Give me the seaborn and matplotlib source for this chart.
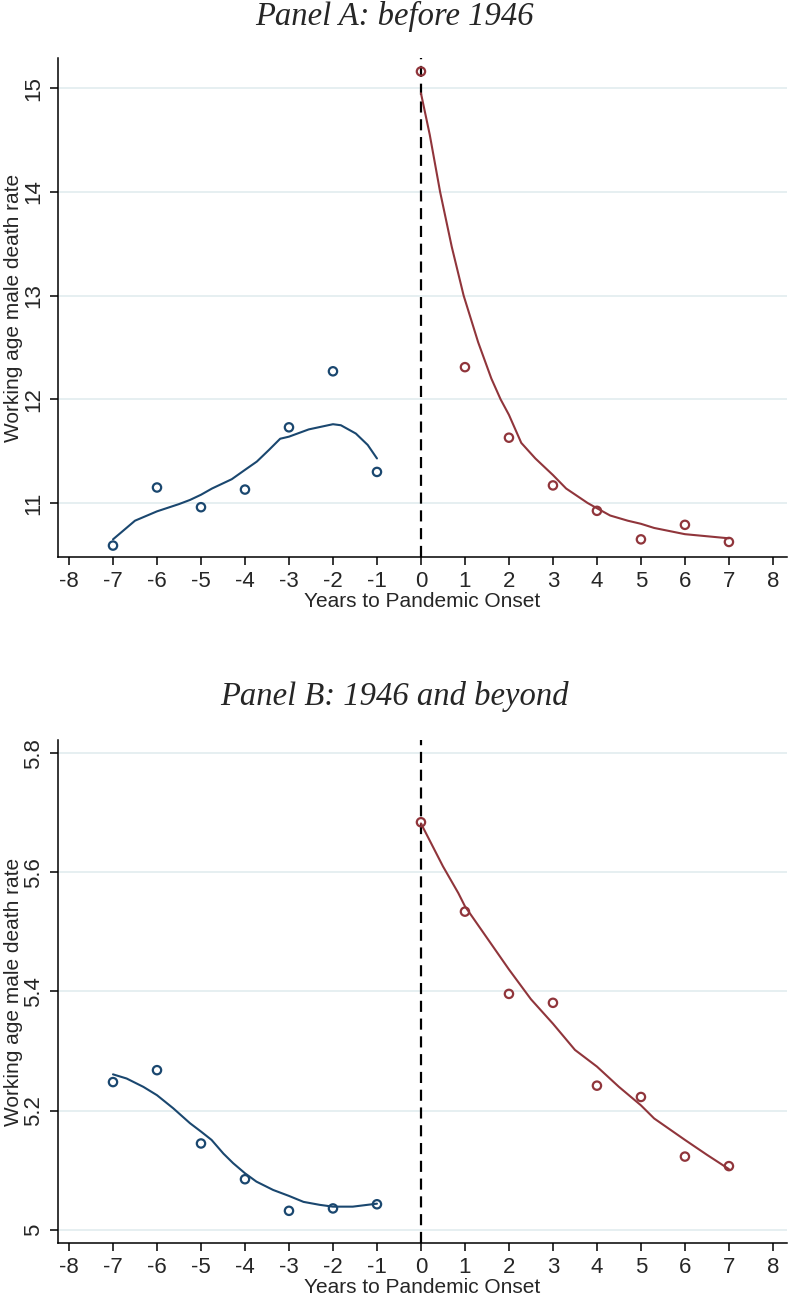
import numpy as np
import pandas as pd
import seaborn as sns
import matplotlib.pyplot as plt

# years relative to pandemic onset
years = [-7, -6, -5, -4, -3, -2, -1, 0, 1, 2, 3, 4, 5, 6, 7]

# Panel A: before 1946 (binned means)
rate_a = [10.59, 11.15, 10.96, 11.13, 11.73, 12.27, 11.30,
          15.16, 12.31, 11.63, 11.17, 10.925, 10.65, 10.79, 10.625]
# Panel B: 1946 and beyond
rate_b = [5.248, 5.268, 5.145, 5.085, 5.032, 5.036, 5.043,
          5.684, 5.534, 5.396, 5.381, 5.242, 5.223, 5.123, 5.107]

# smoothed fits
fit_a_pre_x = [-7, -6.5, -6, -5.5, -5.25, -5, -4.75, -4.3, -4, -3.73, -3.46,
               -3.2, -3, -2.55, -2, -1.82, -1.48, -1.21, -1]
fit_a_pre_y = [10.65, 10.83, 10.92, 10.99, 11.03, 11.08, 11.14, 11.23, 11.32,
               11.40, 11.51, 11.62, 11.64, 11.71, 11.76, 11.75, 11.67, 11.56, 11.43]
fit_a_post_x = [0, 0.2, 0.435, 0.7, 0.97, 1.3, 1.6, 1.81, 2.0, 2.28, 2.6, 3.0,
                3.3, 3.79, 4.0, 4.3, 4.7, 5.0, 5.3, 6.0, 7.0]
fit_a_post_y = [14.95, 14.55, 14.0, 13.47, 13.0, 12.55, 12.2, 12.0, 11.85, 11.58,
                11.43, 11.27, 11.14, 11.0, 10.95, 10.88, 10.83, 10.80, 10.76,
                10.70, 10.66]

fit_b_pre_x = [-7, -6.69, -6.31, -6, -5.63, -5.25, -5, -4.76, -4.49, -4.27, -4,
               -3.74, -3.36, -3, -2.67, -2.3, -2, -1.55, -1]
fit_b_pre_y = [5.261, 5.254, 5.240, 5.226, 5.204, 5.179, 5.165, 5.151, 5.128,
               5.112, 5.095, 5.081, 5.067, 5.057, 5.047, 5.042, 5.039, 5.039, 5.044]
fit_b_post_x = [0, 0.5, 0.85, 1.0, 1.5, 2.0, 2.27, 2.5, 3.0, 3.5, 4.0, 4.5, 5.0,
                5.3, 6.0, 6.5, 7.0]
fit_b_post_y = [5.682, 5.610, 5.565, 5.543, 5.49, 5.437, 5.41, 5.387, 5.346,
                5.302, 5.274, 5.240, 5.209, 5.187, 5.151, 5.126, 5.102]

yticks_a = [11, 12, 13, 14, 15]
yticks_b = [5, 5.2, 5.4, 5.6, 5.8]
ytick_labels_b = ['5', '5.2', '5.4', '5.6', '5.8']

navy = '#1a476f'
maroon = '#90353b'
grid_col = '#e4eef0'

sns.set_style('ticks')
plt.rcParams['font.family'] = ['Liberation Sans', 'DejaVu Sans']
plt.rcParams['axes.unicode_minus'] = False

W, H = 788, 1296
fig = plt.figure(figsize=(W / 100, H / 100), dpi=100)


def make_panel(rect_px, rates, fits, yticks, ylabels, ylim, title, title_y):
    left, top, right, bottom = rect_px
    ax = fig.add_axes([left / W, 1 - bottom / H, (right - left) / W, (bottom - top) / H])
    df = pd.DataFrame({'year': years, 'rate': rates})
    df['side'] = np.where(df['year'] < 0, 'pre', 'post')

    for ytk in yticks:
        ax.axhline(ytk, color=grid_col, lw=1.3, zorder=0)
    ax.axvline(0, color='black', lw=1.6, dashes=(5, 3), zorder=1)

    for (fx, fy), col in zip(fits, [navy, maroon]):
        sns.lineplot(x=fx, y=fy, ax=ax, color=col, lw=1.5, sort=False, zorder=3)
    sns.scatterplot(data=df, x='year', y='rate', hue='side',
                    palette={'pre': navy, 'post': maroon}, ax=ax, legend=False,
                    marker='o', s=36, facecolor='none', linewidth=1.6, zorder=4)
    # hollow markers: edge colours from hue
    coll = ax.collections[-1]
    coll.set_edgecolor([navy if y < 0 else maroon for y in years])
    coll.set_facecolor('none')

    ax.set_xlim(-8.25, 8.32)
    ax.set_ylim(*ylim)
    ax.set_xticks(range(-8, 9))
    ax.set_yticks(yticks)
    ax.set_yticklabels(ylabels, rotation=90, va='center')
    ax.tick_params(axis='both', labelsize=16, length=6, width=1.1, color='black', pad=4)
    ax.set_xlabel('Years to Pandemic Onset', fontsize=15, labelpad=0)
    ax.set_ylabel('Working age male death rate', fontsize=15)
    ax.yaxis.set_label_coords(-0.048, 0.5)
    sns.despine(ax=ax)
    for s in ['left', 'bottom']:
        ax.spines[s].set_linewidth(1.1)
        ax.spines[s].set_color('black')
    fig.text(0.5, 1 - title_y / H, title, ha='center', va='center',
             family='Liberation Serif', style='italic', fontsize=23.5)
    return ax


make_panel((58, 58, 787, 557), rate_a, [(fit_a_pre_x, fit_a_pre_y), (fit_a_post_x, fit_a_post_y)],
           yticks_a, [str(v) for v in yticks_a], (10.48, 15.29), 'Panel A: before 1946', 16)
make_panel((58, 740, 787, 1243), rate_b, [(fit_b_pre_x, fit_b_pre_y), (fit_b_post_x, fit_b_post_y)],
           yticks_b, ytick_labels_b, (4.978, 5.822), 'Panel B: 1946 and beyond', 697)

fig.savefig('out.png', dpi=100)
